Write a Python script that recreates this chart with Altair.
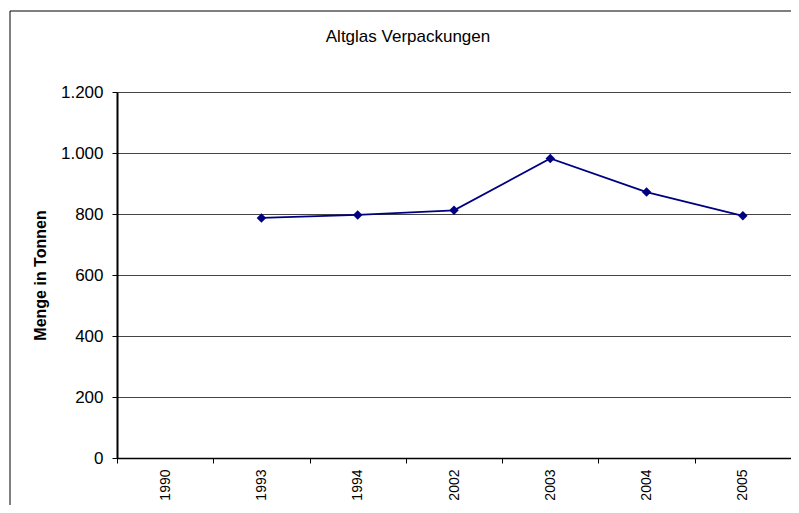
import altair as alt
import pandas as pd

years = ["1990", "1993", "1994", "2002", "2003", "2004", "2005"]
data_years = ["1993", "1994", "2002", "2003", "2004", "2005"]
values = [787, 797, 812, 982, 872, 794]
y_ticks = [0, 200, 400, 600, 800, 1000, 1200]
title_text = "Altglas Verpackungen"
y_title = "Menge in Tonnen"

df = pd.DataFrame({"Jahr": data_years, "Menge": values})

FONT = "Liberation Sans"
W, H = 674, 366

x_enc = alt.X(
    "Jahr:N",
    scale=alt.Scale(domain=years, paddingInner=0, paddingOuter=0),
    axis=alt.Axis(
        title=None, labelAngle=-90, labelFont=FONT, labelFontSize=14,
        labelColor="black", tickColor="black", domainColor="black",
        domainWidth=1.5, tickSize=5, labelPadding=6, tickBand="extent",
        grid=False,
    ),
)
y_enc = alt.Y(
    "Menge:Q",
    scale=alt.Scale(domain=[0, 1200], nice=False),
    axis=alt.Axis(
        title=y_title, values=y_ticks, titleFont=FONT, titleFontSize=16,
        titleFontWeight="bold", titleColor="black", titlePadding=12,
        labelFont=FONT, labelFontSize=17, labelColor="black",
        labelPadding=9, tickSize=5, tickColor="black", domainColor="black",
        domainWidth=2, grid=True, gridColor="#444444", gridWidth=1,
        labelExpr="replace(format(datum.value, ','), ',', '.')",
    ),
)

line = alt.Chart(df).mark_line(
    color="#000080", strokeWidth=1.8,
    point=alt.OverlayMarkDef(shape="diamond", size=90, color="#000080", filled=True, opacity=1),
).encode(x=x_enc, y=y_enc)

deco = pd.DataFrame({"t": [title_text]})
title = alt.Chart(deco).mark_text(
    font=FONT, fontSize=17, color="black", align="center", baseline="middle"
).encode(text="t:N", x=alt.value(291), y=alt.value(-55))

border = alt.Chart(deco).mark_rect(
    fill=None, fillOpacity=0, stroke="black", strokeWidth=1
).encode(x=alt.value(-107), x2=alt.value(720), y=alt.value(-81), y2=alt.value(520))

chart = alt.layer(border, line, title).properties(
    width=W, height=H,
    padding={"left": 109, "top": 84, "right": 0, "bottom": 47},
    autosize=alt.AutoSizeParams(type="none"),
).configure_view(stroke="black", strokeWidth=1.5).configure(background="white")

chart.save("out.html", embed_options={"renderer": "svg", "actions": False})
